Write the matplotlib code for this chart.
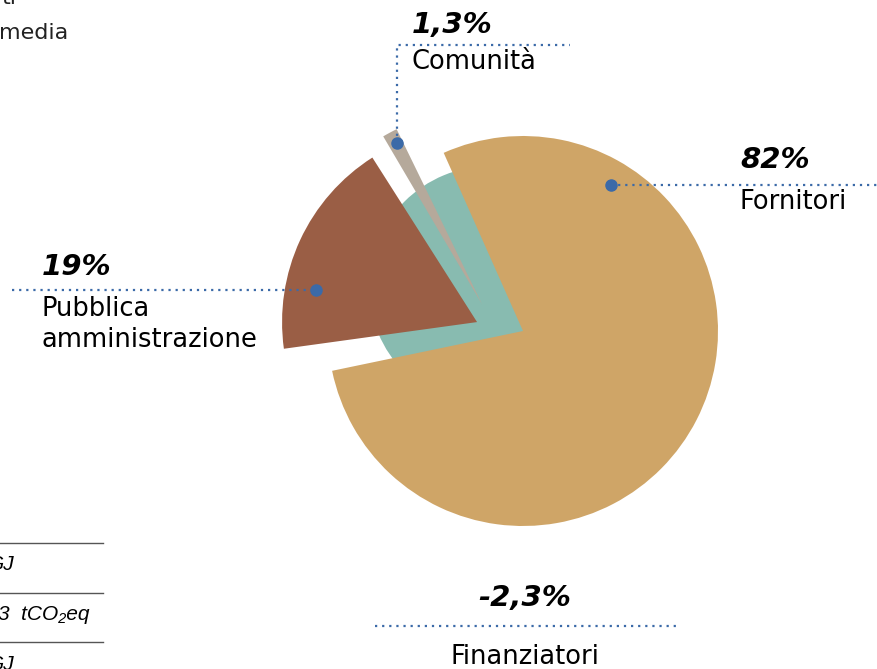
import numpy as np
import matplotlib.pyplot as plt
from matplotlib.patches import Wedge

# data
labels = ['Fornitori', 'Pubblica\namministrazione', 'Comunità', 'Finanziatori']
values = [82, 19, 1.3, -2.3]
value_txt = ['82%', '19%', '1,3%', '-2,3%']
colors = ['#cfa567', '#9a5e45', '#b5a99b', '#88bbb0']

W, H = 878, 669
fig = plt.figure(figsize=(W / 100, H / 100), dpi=100)
ax = fig.add_axes([0, 0, 1, 1])
ax.set_xlim(0, W)
ax.set_ylim(0, H)
ax.axis('off')

def Y(y):
    return H - y

cx, cy, r = 523, Y(331), 195
blue = '#3b6aa8'
font = ['DejaVu Sans']

# angles from absolute shares, counter-clockwise, small pad between slices
tot = sum(abs(v) for v in values)
spans = [360 * abs(v) / tot for v in values]
order = [0, 2, 1, 3]
pad = 2.0
a = 114 - spans[0]
angs = {}
for k, i in enumerate(order):
    if k > 0:
        a += pad
    angs[i] = (a, a + spans[i])
    a += spans[i]

# negative slice (Finanziatori) ends up as a small disc behind the others
ax.add_patch(Wedge((cx - 33, cy + 44), r * 0.62, 0, 360, color=colors[3], lw=0))

# explode: (distance in radii, direction in degrees)
explode = {0: (0, 0), 1: (0.24, 169), 2: (0.25, 147)}
for i in [0, 1, 2]:
    t1, t2 = angs[i]
    d, ang = explode[i]
    ox = d * r * np.cos(np.deg2rad(ang))
    oy = d * r * np.sin(np.deg2rad(ang))
    ax.add_patch(Wedge((cx + ox, cy + oy), r, t1, t2, color=colors[i], lw=0))

ls = (0, (1, 2.2))
pct = dict(fontsize=21, fontweight='bold', style='italic', family=font, va='center')
lab = dict(fontsize=18.5, family=font, va='center')
# Fornitori
ax.plot([611, W], [Y(185), Y(185)], color=blue, ls=ls, lw=1.6)
ax.plot(611, Y(185), 'o', color=blue, ms=8)
ax.text(740, Y(160), value_txt[0], **pct)
ax.text(740, Y(202), labels[0], **lab)
# Pubblica amministrazione
ax.plot([12, 316], [Y(290), Y(290)], color=blue, ls=ls, lw=1.6)
ax.plot(316, Y(290), 'o', color=blue, ms=8)
ax.text(42, Y(267), value_txt[1], **pct)
ax.text(42, Y(309), labels[1].split('\n')[0], **lab)
ax.text(42, Y(340), labels[1].split('\n')[1], **lab)
# Comunita
ax.plot([397, 397, 570], [Y(143), Y(45), Y(45)], color=blue, ls=ls, lw=1.6)
ax.plot(397, Y(143), 'o', color=blue, ms=8)
ax.text(412, Y(25), value_txt[2], **pct)
ax.text(412, Y(62), labels[2], **lab)
# Finanziatori
ax.plot([375, 677], [Y(626), Y(626)], color=blue, ls=ls, lw=1.6)
ax.text(525, Y(598), value_txt[3], ha='center', **pct)
ax.text(525, Y(657), labels[3], ha='center', **lab)

# cropped text from neighbouring panel
ax.text(16, Y(-2), 'ti', fontsize=16, family=font, va='center', ha='right', color='#222222')
ax.text(-1, Y(33), 'media', fontsize=16, family=font, va='center', color='#222222')
for yy in [543, 593, 642]:
    ax.plot([0, 103], [Y(yy), Y(yy)], color='#555555', lw=1)
tfont = ['Liberation Sans', 'DejaVu Sans']
ax.text(15, Y(565), 'GJ', fontsize=15, style='italic', family=tfont, va='center', ha='right')
ax.text(90, Y(615), '3  tCO₂eq', fontsize=15, style='italic', family=tfont, va='center', ha='right')
ax.text(15, Y(665), 'GJ', fontsize=15, style='italic', family=tfont, va='center', ha='right')

fig.savefig('out.png', dpi=100)
